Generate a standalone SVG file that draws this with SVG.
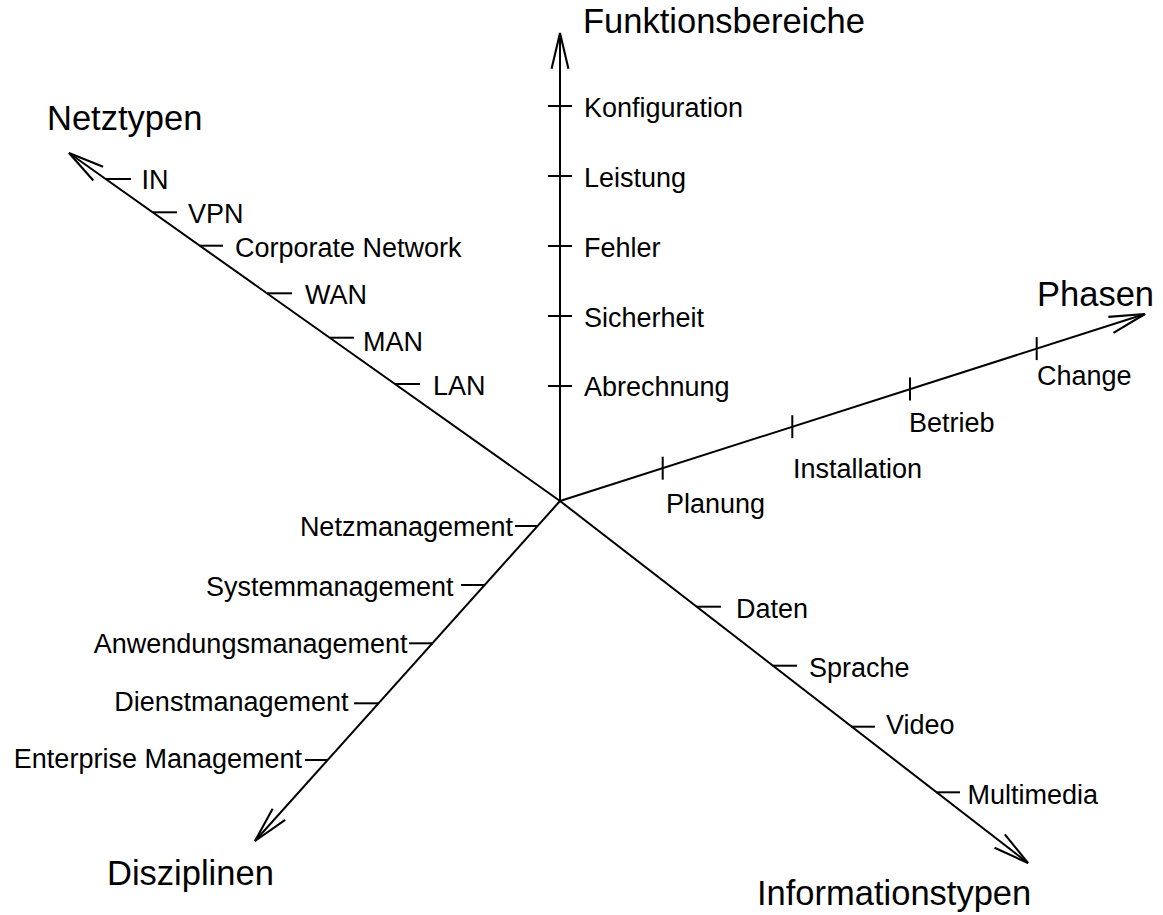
<svg xmlns="http://www.w3.org/2000/svg" width="1163" height="915" viewBox="0 0 1163 915">
<defs>
<marker id="arr" markerUnits="userSpaceOnUse" markerWidth="40" markerHeight="24" refX="0" refY="0" viewBox="-36 -10 38 20" orient="auto" overflow="visible">
<path d="M-34,-8 L0,0 L-34,8" fill="none" stroke="#000" stroke-width="2"/>
</marker>
<style>
.ax{stroke:#000;stroke-width:2;fill:none}
.tk{stroke:#000;stroke-width:2}
text{font-family:"Liberation Sans",Arial,sans-serif;fill:#000}
.lb{font-size:27px}
.tt{font-size:34.5px}
</style>
</defs>
<rect width="1163" height="915" fill="#fff"/>
<g id="connectors">
<line class="ax" x1="560" y1="501" x2="560" y2="33" marker-end="url(#arr)"/>
<line class="ax" x1="560" y1="501" x2="69" y2="153" marker-end="url(#arr)"/>
<line class="ax" x1="560" y1="501" x2="1145" y2="314" marker-end="url(#arr)"/>
<line class="ax" x1="560" y1="501" x2="255" y2="841" marker-end="url(#arr)"/>
<line class="ax" x1="560" y1="501" x2="1028" y2="863" marker-end="url(#arr)"/>
</g>
<g id="funktionsbereiche">
<text class="tt" x="583" y="33">Funktionsbereiche</text>
<line class="tk" x1="548" y1="106" x2="572" y2="106"/>
<line class="tk" x1="548" y1="176" x2="572" y2="176"/>
<line class="tk" x1="548" y1="246" x2="572" y2="246"/>
<line class="tk" x1="548" y1="316" x2="572" y2="316"/>
<line class="tk" x1="548" y1="386" x2="572" y2="386"/>
<text class="lb" x="584" y="116.5">Konfiguration</text>
<text class="lb" x="584" y="186.5">Leistung</text>
<text class="lb" x="584" y="256.5">Fehler</text>
<text class="lb" x="584" y="326.5">Sicherheit</text>
<text class="lb" x="584" y="396">Abrechnung</text>
</g>
<g id="netztypen">
<text class="tt" x="47" y="130">Netztypen</text>
<line class="tk" x1="106" y1="179" x2="131" y2="179"/>
<line class="tk" x1="153" y1="212.3" x2="177" y2="212.3"/>
<line class="tk" x1="200" y1="245.7" x2="223" y2="245.7"/>
<line class="tk" x1="267" y1="293.3" x2="292" y2="293.3"/>
<line class="tk" x1="330" y1="337.7" x2="354" y2="337.7"/>
<line class="tk" x1="395" y1="384" x2="420" y2="384"/>
<text class="lb" x="141.5" y="188.5">IN</text>
<text class="lb" x="188" y="223">VPN</text>
<text class="lb" x="235" y="256.5">Corporate Network</text>
<text class="lb" x="305" y="304">WAN</text>
<text class="lb" x="363" y="350.5">MAN</text>
<text class="lb" x="433" y="395">LAN</text>
</g>
<g id="phasen">
<text class="tt" x="1037" y="306">Phasen</text>
<line class="tk" x1="662.7" y1="456.7" x2="662.7" y2="479.7"/>
<line class="tk" x1="792.3" y1="415.2" x2="792.3" y2="438.2"/>
<line class="tk" x1="910" y1="377.6" x2="910" y2="400.6"/>
<line class="tk" x1="1036.7" y1="337.1" x2="1036.7" y2="360.1"/>
<text class="lb" x="666" y="513">Planung</text>
<text class="lb" x="793" y="478">Installation</text>
<text class="lb" x="909" y="431.5">Betrieb</text>
<text class="lb" x="1037" y="385">Change</text>
</g>
<g id="disziplinen">
<text class="tt" x="107" y="885">Disziplinen</text>
<line class="tk" x1="515" y1="526" x2="538" y2="526"/>
<line class="tk" x1="461" y1="585" x2="485" y2="585"/>
<line class="tk" x1="409" y1="643.3" x2="433" y2="643.3"/>
<line class="tk" x1="354" y1="703.3" x2="378.5" y2="703.3"/>
<line class="tk" x1="305" y1="760" x2="328" y2="760"/>
<text class="lb" x="513" y="535.5" text-anchor="end">Netzmanagement</text>
<text class="lb" x="453.5" y="595.5" text-anchor="end">Systemmanagement</text>
<text class="lb" x="407.5" y="653" text-anchor="end">Anwendungsmanagement</text>
<text class="lb" x="348.5" y="710.5" text-anchor="end">Dienstmanagement</text>
<text class="lb" x="302" y="767.5" text-anchor="end">Enterprise Management</text>
</g>
<g id="informationstypen">
<text class="tt" x="757" y="905">Informationstypen</text>
<line class="tk" x1="696.5" y1="606.7" x2="721" y2="606.7"/>
<line class="tk" x1="772.6" y1="665.7" x2="797" y2="665.7"/>
<line class="tk" x1="851.4" y1="726.7" x2="875" y2="726.7"/>
<line class="tk" x1="936.1" y1="792.3" x2="960" y2="792.3"/>
<text class="lb" x="736" y="617.5">Daten</text>
<text class="lb" x="809" y="676.5">Sprache</text>
<text class="lb" x="886" y="734">Video</text>
<text class="lb" x="967.5" y="803.5">Multimedia</text>
</g>
</svg>
